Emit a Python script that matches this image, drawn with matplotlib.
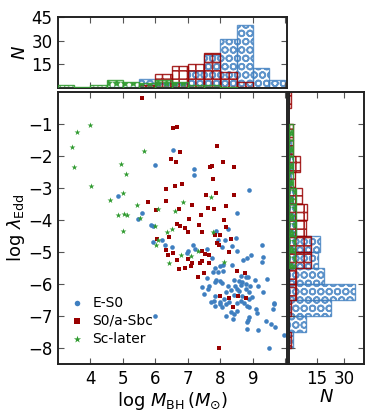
import numpy as np
import matplotlib
matplotlib.use("Agg")
import matplotlib.pyplot as plt

# ---- scatter data (log M_BH, log lambda_Edd) ----
es0_mbh = [4.85, 5.99, 6.53, 7.18, 7.20, 8.89, 8.50, 5.58, 5.48, 5.86, 5.92, 7.88, 8.24,
           5.92, 6.29, 6.52, 7.16, 7.21, 7.02, 6.97, 7.59, 7.92, 8.06, 8.16, 8.47, 8.35,
           8.52, 9.27, 8.96, 8.81, 9.30, 8.70, 7.75, 6.19, 9.27, 8.37, 7.85, 7.98, 8.09,
           7.78, 7.93, 8.09, 8.63, 8.86, 8.78, 9.06, 9.45, 7.59, 7.88, 7.85, 7.98, 8.06,
           8.42, 8.57, 8.68, 8.78, 8.91, 9.16, 7.44, 7.64, 7.62, 8.23, 8.44, 8.63, 8.32,
           8.50, 8.57, 8.78, 8.88, 8.19, 7.49, 9.30, 7.85, 8.42, 8.68, 8.99, 8.88, 8.11,
           7.80, 7.70, 8.00, 8.63, 9.64, 8.19, 6.00, 7.85, 7.98, 8.06, 8.26, 8.50, 8.73,
           8.81, 8.88, 9.09, 9.12, 8.50, 8.42, 8.32, 8.19, 8.40, 8.88, 8.85, 8.81, 8.83,
           9.16, 9.40, 9.55, 9.68, 9.61, 9.66, 9.97, 9.50]
es0_edd = [-3.26, -2.27, -1.82, -2.41, -2.61, -3.07, -3.79, -3.78, -3.98, -4.17, -4.20, -4.36, -4.29,
           -4.69, -4.77, -4.83, -4.77, -4.90, -4.97, -5.03, -4.92, -4.64, -4.85, -4.64, -4.57, -4.80,
           -4.97, -4.77, -5.11, -5.18, -5.16, -5.24, -5.18, -4.62, -5.30, -5.40, -5.51, -5.44, -5.40,
           -5.63, -5.63, -5.58, -5.76, -5.79, -5.77, -5.86, -5.84, -5.82, -5.86, -5.95, -5.92, -5.97,
           -5.89, -5.92, -5.95, -6.00, -6.05, -6.07, -6.08, -6.07, -6.15, -6.05, -6.07, -6.03, -6.18,
           -6.15, -6.21, -6.15, -6.24, -6.24, -6.31, -6.26, -6.36, -6.34, -6.36, -6.42, -6.47, -6.47,
           -6.52, -6.57, -6.57, -6.52, -6.60, -6.62, -7.01, -6.68, -6.62, -6.73, -6.57, -6.60, -6.60,
           -6.68, -6.73, -6.78, -6.92, -6.83, -6.94, -6.89, -6.99, -7.09, -7.04, -7.13, -7.20, -7.41,
           -7.44, -7.17, -7.25, -7.34, -6.78, -6.62, -7.60, -8.00]

sbc_mbh = [5.59, 6.55, 6.67, 7.89, 6.75, 6.49, 6.65, 8.09, 7.75, 7.69, 8.41, 7.76, 6.83, 6.60,
           6.34, 7.87, 7.57, 8.42, 5.77, 6.33, 7.13, 6.72, 6.02, 7.63, 7.80, 8.18, 7.42, 7.04,
           8.12, 6.67, 6.75, 7.33, 6.92, 8.18, 7.02, 7.45, 7.83, 7.98, 6.04, 6.43, 8.32, 7.90,
           7.95, 6.32, 6.54, 7.44, 7.54, 7.64, 8.28, 6.40, 6.99, 6.67, 7.14, 7.10, 6.74, 6.90,
           7.37, 7.45, 7.64, 7.51, 7.30, 8.50, 8.75, 7.98, 8.28, 8.55, 8.80, 8.39, 7.95]
sbc_edd = [-0.18, -1.14, -1.11, -1.70, -1.87, -2.10, -2.19, -2.19, -2.30, -2.35, -2.33, -2.72, -2.88, -2.94,
           -3.04, -3.16, -3.23, -3.22, -3.44, -3.42, -3.52, -3.65, -3.68, -3.64, -3.66, -3.57, -3.83, -3.98,
           -3.99, -4.14, -4.19, -4.16, -4.24, -4.21, -4.38, -4.39, -4.46, -4.46, -4.61, -4.54, -4.61, -4.72,
           -4.77, -4.95, -5.03, -4.97, -5.06, -5.08, -5.01, -5.11, -5.21, -5.25, -5.34, -5.44, -5.52, -5.50,
           -5.34, -5.29, -5.34, -5.65, -5.79, -5.58, -5.65, -6.38, -6.44, -6.38, -6.44, -6.71, -8.00]

scl_mbh = [4.00, 3.60, 3.44, 3.49, 5.64, 4.95, 5.08, 4.03, 5.00, 4.59, 5.44, 6.07, 6.86, 6.60,
           7.70, 4.86, 5.04, 5.14, 5.54, 4.99, 6.00, 6.52, 6.37, 7.76, 6.08, 6.02, 6.43, 6.78,
           7.30, 7.10, 8.10]
scl_edd = [-1.04, -1.24, -1.71, -2.34, -1.85, -2.25, -2.56, -2.93, -3.16, -3.37, -3.52, -3.65, -3.44, -3.72,
           -3.28, -3.85, -3.80, -3.85, -3.94, -4.36, -4.18, -4.28, -4.38, -4.38, -4.63, -4.78, -5.35, -5.08,
           -4.97, -5.13, -5.30]

# ---- histogram counts ----
mbh_edges = np.arange(3.0, 10.01, 0.5)           # 14 bins
es0_mbh_n = [0, 0, 0, 1, 1, 6, 3, 3, 11, 21, 31, 40, 13, 5]
sbc_mbh_n = [0, 0, 0, 0, 0, 2, 9, 14, 15, 22, 10, 4, 0, 0]
scl_mbh_n = [2, 1, 2, 5, 4, 3, 5, 4, 2, 2, 1, 0, 0, 0]

edd_edges = np.arange(-8.5, 0.01, 0.5)           # 17 bins, bottom to top
es0_edd_n = [0, 2, 9, 23, 36, 19, 16, 17, 4, 3, 2, 1, 2, 1, 0, 0, 0]
sbc_edd_n = [0, 1, 0, 1, 4, 4, 12, 12, 9, 10, 7, 3, 6, 2, 2, 0, 1]
scl_edd_n = [0, 0, 0, 0, 0, 0, 3, 3, 4, 4, 4, 2, 2, 2, 2, 0, 0]

c_blue = '#3f7fc0'
c_red = '#990000'
c_green = '#2e9a2e'

plt.rcParams['font.size'] = 12
plt.rcParams['hatch.linewidth'] = 1.2

fig = plt.figure(figsize=(3.74, 4.16), dpi=100)
ax = fig.add_axes([0.155, 0.125, 0.612, 0.654])
ax_top = fig.add_axes([0.155, 0.788, 0.612, 0.171])
ax_r = fig.add_axes([0.773, 0.125, 0.2005, 0.654])

# main scatter
ax.scatter(es0_mbh, es0_edd, s=11, marker='o', color=c_blue, lw=0, label='E-S0')
ax.scatter(sbc_mbh, sbc_edd, s=12, marker='s', color=c_red, lw=0, label='S0/a-Sbc')
ax.scatter(scl_mbh, scl_edd, s=20, marker='*', color=c_green, lw=0, label='Sc-later')
ax.set_xlim(3, 10.05)
ax.set_ylim(-8.5, 0)
ax.set_xticks(range(4, 11))
ax.set_xticklabels(['4', '5', '6', '7', '8', '9', ''])
ax.set_yticks(range(-1, -9, -1))
ax.set_xlabel(r'$\log\,M_{\rm BH}\,(M_{\odot})$', fontsize=13, labelpad=2)
ax.set_ylabel(r'$\log\,\lambda_{\rm Edd}$', fontsize=13, labelpad=1)
ax.legend(loc='lower left', bbox_to_anchor=(-0.02, 0.03), frameon=False, fontsize=10,
          scatterpoints=1, handletextpad=0.1, labelspacing=0.3, borderpad=0.2,
          markerscale=1.2)


def hist_bars(axis, edges, counts, color, hatch, alpha, z, horizontal=False):
    counts = np.asarray(counts)
    left = edges[:-1]
    keep = counts > 0
    if horizontal:
        axis.barh(left[keep], counts[keep], height=0.5, align='edge', fill=False,
                  hatch=hatch, edgecolor=color, alpha=alpha, lw=1.0, zorder=z)
    else:
        axis.bar(left[keep], counts[keep], width=0.5, align='edge', fill=False,
                 hatch=hatch, edgecolor=color, alpha=alpha, lw=1.0, zorder=z)


hist_bars(ax_top, mbh_edges, es0_mbh_n, c_blue, 'OO', 0.8, 1)
hist_bars(ax_top, mbh_edges, sbc_mbh_n, c_red, '++', 0.85, 2)
hist_bars(ax_top, mbh_edges, scl_mbh_n, c_green, '**', 0.85, 3)
ax_top.set_xlim(ax.get_xlim())
ax_top.set_ylim(0, 45)
ax_top.set_yticks([15, 30, 45])
ax_top.set_xticks(range(4, 11))
ax_top.tick_params(labelbottom=False)
ax_top.set_ylabel(r'$N$', fontsize=13, labelpad=2)

hist_bars(ax_r, edd_edges, es0_edd_n, c_blue, 'OO', 0.8, 1, horizontal=True)
hist_bars(ax_r, edd_edges, sbc_edd_n, c_red, '++', 0.85, 2, horizontal=True)
hist_bars(ax_r, edd_edges, scl_edd_n, c_green, '**', 0.85, 3, horizontal=True)
ax_r.set_ylim(ax.get_ylim())
ax_r.set_xlim(0, 41)
ax_r.set_xticks([15, 30])
ax_r.set_yticks(range(-1, -9, -1))
ax_r.tick_params(labelleft=False)
ax_r.set_xlabel(r'$N$', fontsize=13, labelpad=0)

for a in (ax, ax_top, ax_r):
    a.tick_params(direction='in', top=True, right=True, length=4, width=0.8,
                  color='#555555', labelsize=12, pad=4)
    for sp in a.spines.values():
        sp.set_linewidth(1.4)
        sp.set_color('#222222')

fig.savefig('out.png', dpi=100)
